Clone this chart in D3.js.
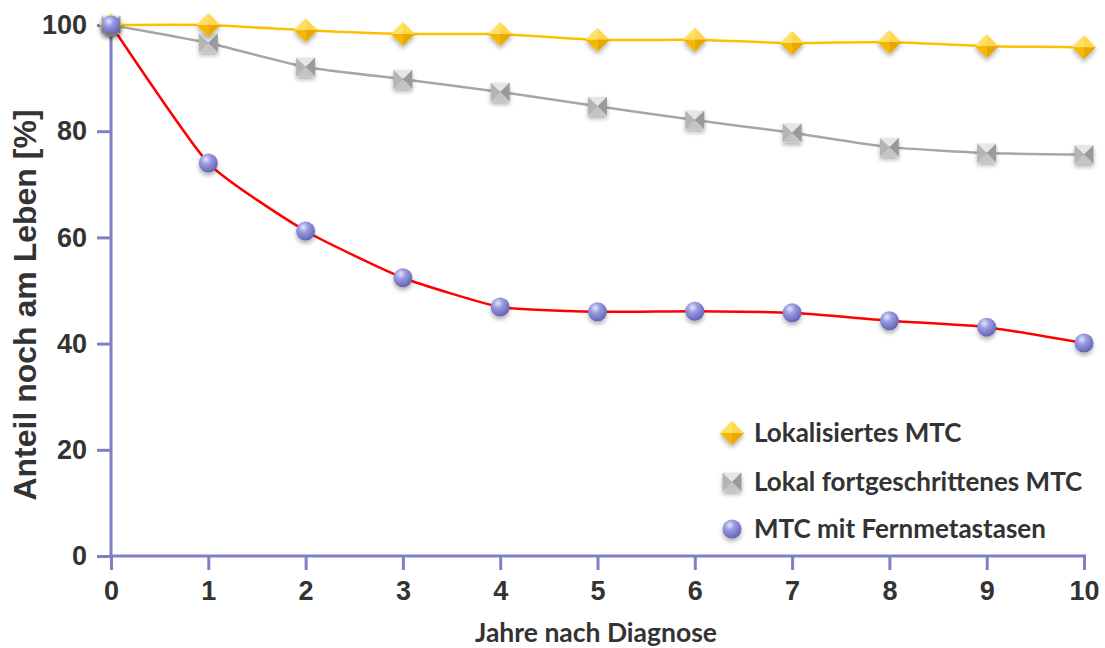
<!DOCTYPE html>
<html><head><meta charset="utf-8">
<script src="https://cdn.jsdelivr.net/npm/d3@7"></script>
<style>body{margin:0;background:#fff}svg{display:block}</style>
</head><body>
<script>
const years = [0,1,2,3,4,5,6,7,8,9,10];
const lokalisiert = [100,100,99.0,98.3,98.3,97.2,97.2,96.6,96.8,96.0,95.8];
const fortgeschritten = [100,96.6,92.1,89.8,87.4,84.7,82.1,79.7,77.0,75.9,75.6];
const fernmetastasen = [100,74.0,61.2,52.4,46.9,46.0,46.1,45.8,44.3,43.1,40.1];
const yTicks = [0,20,40,60,80,100];
const seriesNames = ["Lokalisiertes MTC","Lokal fortgeschrittenes MTC","MTC mit Fernmetastasen"];

const W=1105,H=648;
const svg=d3.select("body").append("svg").attr("width",W).attr("height",H);
const defs=svg.append("defs");
const f=defs.append("filter").attr("id","sh").attr("x","-50%").attr("y","-50%").attr("width","200%").attr("height","220%");
f.append("feDropShadow").attr("dx",0).attr("dy",3).attr("stdDeviation",2).attr("flood-color","#000").attr("flood-opacity",0.3);
const rg=defs.append("radialGradient").attr("id","sph").attr("cx","0.38").attr("cy","0.3").attr("r","0.75");
rg.append("stop").attr("offset","0").attr("stop-color","#e4e6ff");
rg.append("stop").attr("offset","0.35").attr("stop-color","#9a9be0");
rg.append("stop").attr("offset","1").attr("stop-color","#5c5fb0");

const x=d3.scaleLinear().domain([0,10]).range([111,1084]);
const y=d3.scaleLinear().domain([0,100]).range([556,25]);
const axisCol="#7f7fc4";
const arial="'Liberation Sans',Arial,sans-serif";
const cal="Lato,'Open Sans',sans-serif";

const gx=svg.append("g").attr("transform","translate(0,556)")
  .call(d3.axisBottom(x).tickValues(years).tickFormat(d3.format("d")).tickSize(14).tickSizeOuter(0));
const gy=svg.append("g").attr("transform","translate(111,0)")
  .call(d3.axisLeft(y).tickValues(yTicks).tickSize(14).tickSizeOuter(0));
[gx,gy].forEach(g=>{
  g.attr("font-size",null);
  g.select(".domain").attr("stroke",axisCol).attr("stroke-width",3);
  g.selectAll(".tick line").attr("stroke",axisCol).attr("stroke-width",3);
  g.selectAll(".tick text").attr("fill","#333").attr("font-family",arial)
   .attr("font-weight","bold").style("font-size","27px");
});
gx.selectAll(".tick text").attr("dy","1.0em");
gy.selectAll(".tick text").attr("dx","-7px");
gx.select(".domain").attr("d","M111,0H1086");
gy.select(".domain").attr("d","M0,556V18");

svg.append("text").attr("transform","translate(36,305) rotate(-90)").attr("text-anchor","middle")
  .attr("font-family",arial).attr("font-weight","bold").style("font-size","32px")
  .attr("fill","#333").text("Anteil noch am Leben [%]");
svg.append("text").attr("x",596).attr("y",642).attr("text-anchor","middle")
  .attr("font-family",cal).attr("font-weight","bold").style("font-size","26.5px")
  .attr("fill","#333").text("Jahre nach Diagnose");

const line=d3.line().x((d,i)=>x(years[i])).y(d=>y(d)).curve(d3.curveCardinal.tension(0.5));
svg.append("path").datum(fortgeschritten).attr("d",line).attr("fill","none").attr("stroke","#a6a6a6").attr("stroke-width",2.5);
svg.append("path").datum(lokalisiert).attr("d",line).attr("fill","none").attr("stroke","#fcc000").attr("stroke-width",2.5);
svg.append("path").datum(fernmetastasen).attr("d",line).attr("fill","none").attr("stroke","#ff0000").attr("stroke-width",2.5);

function diamond(g,cx,cy){
  const s=12, e=g.append("g").attr("filter","url(#sh)");
  const T=[cx,cy-s],R=[cx+s,cy],B=[cx,cy+s],L=[cx-s,cy],C=[cx,cy];
  const tri=(a,b,c,col)=>e.append("path").attr("d",`M${a}L${b}L${c}Z`).attr("fill",col);
  tri(T,R,C,"#ffd84a");tri(R,B,C,"#e8a800");tri(B,L,C,"#f5b800");tri(L,T,C,"#ffe066");
}
function square(g,cx,cy){
  const s=9.5, e=g.append("g").attr("filter","url(#sh)");
  const A=[cx-s,cy-s],Bp=[cx+s,cy-s],Cp=[cx+s,cy+s],D=[cx-s,cy+s],C=[cx,cy];
  const tri=(a,b,c,col)=>e.append("path").attr("d",`M${a}L${b}L${c}Z`).attr("fill",col);
  tri(A,Bp,C,"#e6e6e6");tri(Bp,Cp,C,"#9a9a9a");tri(Cp,D,C,"#c4c4c4");tri(D,A,C,"#b4b4b4");
}
function sphere(g,cx,cy){
  g.append("circle").attr("cx",cx).attr("cy",cy).attr("r",9.5).attr("fill","url(#sph)").attr("filter","url(#sh)");
}
const mg=svg.append("g");
fortgeschritten.forEach((v,i)=>square(mg,x(years[i]),y(v)));
lokalisiert.forEach((v,i)=>diamond(mg,x(years[i]),y(v)));
fernmetastasen.forEach((v,i)=>sphere(mg,x(years[i]),y(v)));

const lg=svg.append("g");
const ly=[433,482,529], mk=[diamond,square,sphere];
seriesNames.forEach((n,i)=>{
  mk[i](lg,732,ly[i]);
  lg.append("text").attr("x",754).attr("y",ly[i]).attr("dy","0.35em")
    .attr("font-family",cal).attr("font-weight","bold").style("font-size","26px")
    .attr("fill","#333").text(n);
});
</script>
</body></html>
